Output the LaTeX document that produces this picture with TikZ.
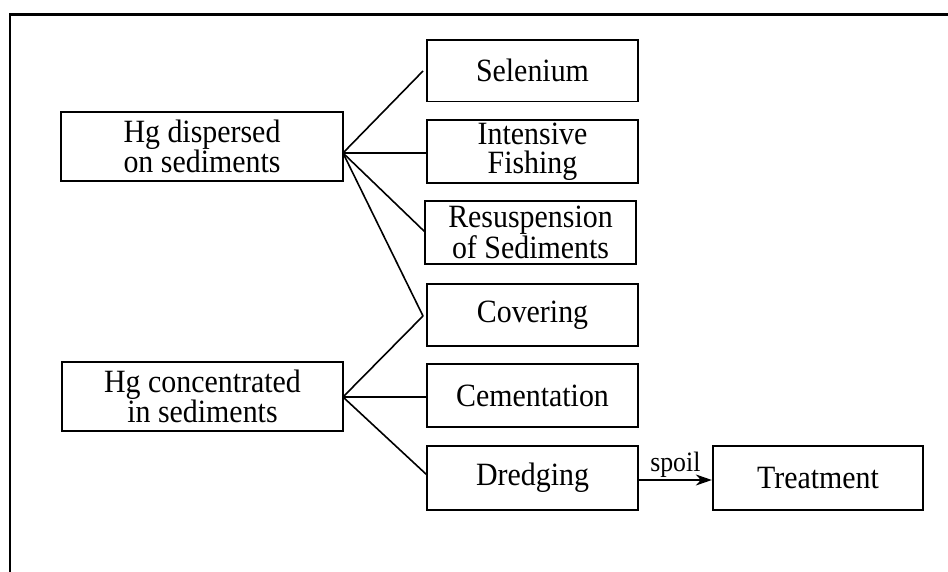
\documentclass[tikz,border=0pt]{standalone}
\usepackage{fontspec}
\setmainfont[FakeStretch=0.92]{Liberation Serif}
\usetikzlibrary{arrows.meta}
\begin{document}
\begin{tikzpicture}[x=1pt,y=-1pt,
  box/.style={draw,line width=1.8pt,inner sep=0pt,align=center,
    font=\fontsize{32.5}{29.5}\selectfont},
  link/.style={line width=1.6pt},
  frame/.style={line width=2.6pt}]
\useasboundingbox (0,0) rectangle (948,572);
% open frame: left and top edges only
\draw[frame] (10,572) -- (10,14.5) -- (948,14.5);

% source boxes
\node[box,minimum width=282pt,minimum height=69pt] (disp) at (202,146.5) {Hg dispersed\\on sediments};
\node[box,minimum width=281pt,minimum height=69pt] (conc) at (202.5,396.5) {Hg concentrated\\ in sediments};

% remediation / influence boxes
\node[box,minimum width=211pt,minimum height=61.5pt] (sel) at (532.5,70.8) {Selenium};
\node[box,minimum width=211pt,minimum height=63pt] (fish) at (532.5,151.7) {Intensive\\Fishing};
\node[box,minimum width=211pt,minimum height=63pt] (resus) at (530.5,232.5) {Resuspension\\of Sediments};
\node[box,minimum width=211pt,minimum height=62pt] (cov) at (532.5,315) {Covering};
\node[box,minimum width=211pt,minimum height=63pt] (cem) at (532.5,395.7) {Cementation};
\node[box,minimum width=211pt,minimum height=64pt] (dred) at (532.5,478) {Dredging};
\node[box,minimum width=210.5pt,minimum height=64pt] (treat) at (818,478) {Treatment};

% fan-out points on the source boxes
\coordinate (dj) at (343,153);
\coordinate (cj) at (343,397);
\coordinate (selin) at (423,71);
\coordinate (resin) at (425,232);
\coordinate (covin) at (423,316);
\coordinate (dredin) at (427,475);

\draw[link] (dj) -- (selin);
\draw[link] (dj) -- (fish.west |- dj);
\draw[link] (dj) -- (resin);
\draw[link] (dj) -- (covin);
\draw[link] (cj) -- (covin);
\draw[link] (cj) -- (cem.west |- cj);
\draw[link] (cj) -- (dredin);

% spoil goes to treatment
\draw[link,-{Stealth[length=16pt,width=11pt,inset=5pt]}] (dred.east |- 0,480) -- (treat.west |- 0,480)
  node[midway,above=1.5pt,font=\fontsize{28}{28}\selectfont,inner sep=0pt] {spoil};
\end{tikzpicture}
\end{document}
